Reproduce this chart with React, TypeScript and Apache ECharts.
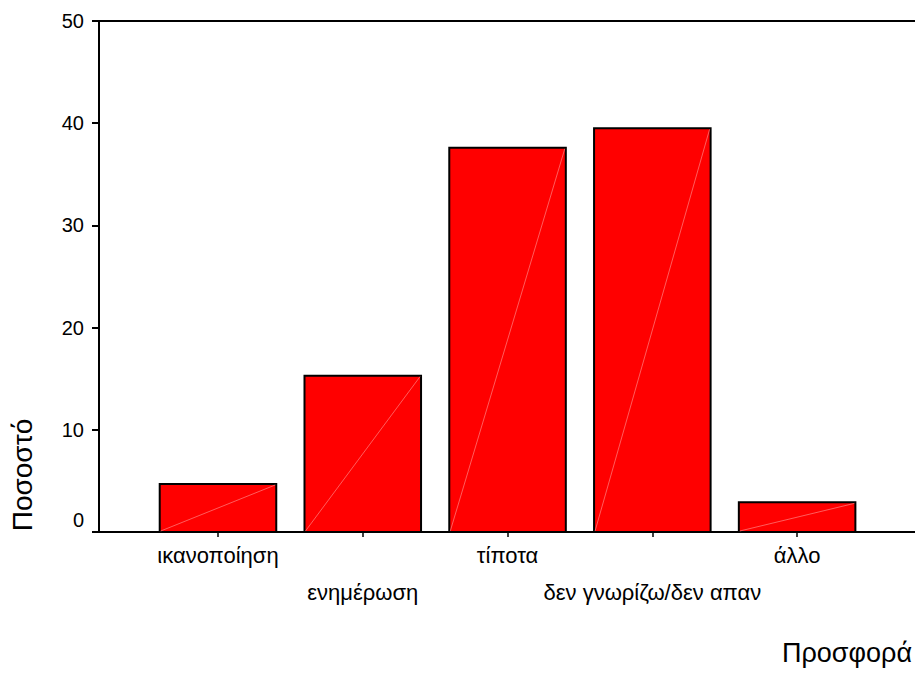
import React, { useEffect, useRef } from "react";
import * as echarts from "echarts";

const categories: string[] = ["ικανοποίηση", "ενημέρωση", "τίποτα", "δεν γνωρίζω/δεν απαν", "άλλο"];
const percentages: number[] = [4.7, 15.3, 37.6, 39.5, 2.9];
const yTicks: number[] = [0, 10, 20, 30, 40, 50];
const yTitle = "Ποσοστό";
const xTitle = "Προσφορά";

const FONT = "'Liberation Sans', Arial, sans-serif";

export default function App() {
  const ref = useRef<HTMLDivElement>(null);
  useEffect(() => {
    if (!ref.current) return;
    const chart = echarts.init(ref.current, null, { renderer: "svg" });
    const yMin = yTicks[0];
    const yMax = yTicks[yTicks.length - 1];
    const yStep = yTicks[1] - yTicks[0];
    chart.setOption({
      animation: false,
      backgroundColor: "#ffffff",
      textStyle: { fontFamily: FONT },
      grid: [
        { left: 145.6, right: 45.5, top: 21, bottom: 141 },
        { left: 99, right: 0, top: 21, bottom: 141 },
      ],
      xAxis: [
        {
          type: "category",
          gridIndex: 0,
          data: categories,
          axisLine: { show: false },
          axisTick: { show: true, alignWithLabel: true, length: 5, lineStyle: { color: "#000", width: 1.5 } },
          axisLabel: {
            interval: 0,
            margin: 5,
            color: "#000",
            fontFamily: FONT,
            fontSize: 22,
            lineHeight: 37,
            formatter: (v: string, i: number) => (i % 2 === 1 ? "\n" + v : v),
          },
          splitLine: { show: false },
        },
        {
          type: "value",
          gridIndex: 1,
          min: 0,
          max: 1,
          position: "bottom",
          axisLine: { show: true, lineStyle: { color: "#000", width: 2 } },
          axisTick: { show: false },
          axisLabel: { show: false },
          splitLine: { show: false },
        },
        {
          type: "value",
          gridIndex: 1,
          min: 0,
          max: 1,
          position: "top",
          axisLine: { show: true, lineStyle: { color: "#000", width: 2 } },
          axisTick: { show: false },
          axisLabel: { show: false },
          splitLine: { show: false },
        },
      ],
      yAxis: [
        {
          type: "value",
          gridIndex: 0,
          min: yMin,
          max: yMax,
          interval: yStep,
          show: false,
        },
        {
          type: "value",
          gridIndex: 1,
          min: yMin,
          max: yMax,
          interval: yStep,
          axisLine: { show: true, lineStyle: { color: "#000", width: 2 } },
          axisTick: { show: true, inside: false, length: 7, lineStyle: { color: "#000", width: 2 } },
          axisLabel: {
            margin: 15,
            color: "#000",
            fontFamily: FONT,
            fontSize: 20,
            formatter: (v: number) => (v === 0 ? "{z|0}" : String(v)),
            rich: {
              z: { fontSize: 20, fontFamily: FONT, color: "#000", padding: [0, 0, 24, 0] },
            },
          },
          splitLine: { show: false },
        },
      ],
      graphic: [
        {
          type: "text",
          x: 22,
          y: 475,
          rotation: Math.PI / 2,
          style: {
            text: yTitle,
            font: `28px ${FONT}`,
            fill: "#000",
            textAlign: "center",
            textVerticalAlign: "middle",
          },
        },
        {
          type: "text",
          right: 3,
          top: 639,
          style: {
            text: xTitle,
            font: `27px ${FONT}`,
            fill: "#000",
          },
        },
      ],
      series: [
        {
          type: "custom",
          xAxisIndex: 0,
          yAxisIndex: 0,
          data: categories.map((c, i) => [i, percentages[i]]),
          renderItem: (params: any, api: any) => {
            const idx = api.value(0);
            const v = api.value(1);
            const top = api.coord([idx, v]);
            const base = api.coord([idx, 0]);
            const band = api.size([1, 0])[0];
            const w = band * 0.805;
            const x0 = top[0] - w / 2;
            return {
              type: "group",
              children: [
                {
                  type: "rect",
                  shape: { x: x0, y: top[1], width: w, height: base[1] - top[1] },
                  style: { fill: "#ff0000", stroke: "#000", lineWidth: 2 },
                },
                {
                  type: "line",
                  shape: { x1: x0 + 1, y1: base[1] - 1, x2: x0 + w - 1, y2: top[1] + 1 },
                  style: { stroke: "#ff9a9a", lineWidth: 0.6 },
                },
              ],
            };
          },
        },
      ],
    });
    return () => chart.dispose();
  }, []);
  return (
    <div
      ref={ref}
      style={{ position: "fixed", left: 0, top: 0, width: 915, height: 673, background: "#fff" }}
    />
  );
}
